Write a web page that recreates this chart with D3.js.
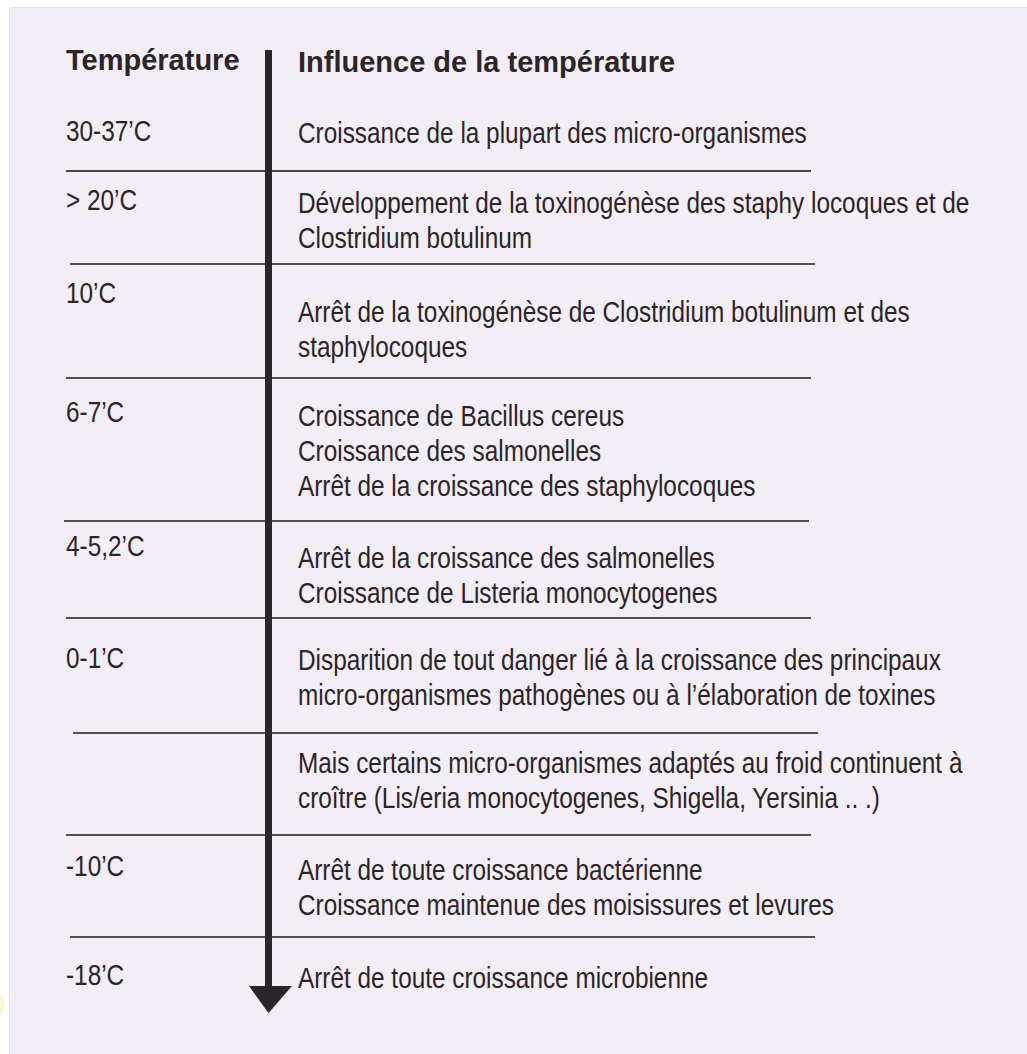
<!DOCTYPE html>
<html>
<head>
<meta charset="utf-8">
<script src="https://cdn.jsdelivr.net/npm/d3@7"></script>
<style>
  body { margin: 0; background: #fff; }
  svg { display: block; }
</style>
</head>
<body>
<svg id="chart"></svg>
<script>
// Les données du tableau
const headers = ['Température', 'Influence de la température'];

const temperatures = ['30-37’C', '> 20’C', '10’C', '6-7’C', '4-5,2’C', '0-1’C', '', '-10’C', '-18’C'];

const influences = [
    ['Croissance de la plupart des micro-organismes'],
    ['Développement de la toxinogénèse des staphy locoques et de', 'Clostridium botulinum'],
    ['Arrêt de la toxinogénèse de Clostridium botulinum et des', 'staphylocoques'],
    ['Croissance de Bacillus cereus', 'Croissance des salmonelles', 'Arrêt de la croissance des staphylocoques'],
    ['Arrêt de la croissance des salmonelles', 'Croissance de Listeria monocytogenes'],
    ['Disparition de tout danger lié à la croissance des principaux', 'micro-organismes pathogènes ou à l’élaboration de toxines'],
    ['Mais certains micro-organismes adaptés au froid continuent à', 'croître (Lis/eria monocytogenes, Shigella, Yersinia .. .)'],
    ['Arrêt de toute croissance bactérienne', 'Croissance maintenue des moisissures et levures'],
    ['Arrêt de toute croissance microbienne']
];

// Mise en page (positions en pixels)
const width = 1027, height = 1054;
const rowTops = [90, 171, 264, 378, 521, 618, 733, 835, 937, 1040];
const labelOffset = [51, 39, 39, 44, 35, 50, 0, 41, 48];
const descOffset = [53, 42, 58, 48, 47, 52, 40, 45, 51];
const ruleX = [[66, 811], [70, 815], [66, 811], [64, 809], [66, 811], [73, 818], [66, 811], [70, 815]];
const lineHeight = 35;
const narrow = 0.84; // police étroite simulée
const ink = '#2b2428';

const svg = d3.select('#chart')
    .attr('width', width)
    .attr('height', height)
    .style('font-family', '"Liberation Sans", Arial, Helvetica, sans-serif');

// Fond du panneau
svg.append('rect')
    .attr('x', 9.5).attr('y', 7.5)
    .attr('width', width).attr('height', height)
    .attr('fill', '#f3edf5')
    .attr('stroke', '#e6e3e6');

// petit reflet jaune sur le bord gauche
svg.append('circle')
    .attr('cx', -12).attr('cy', 1005).attr('r', 17)
    .attr('fill', '#fdf2cf').attr('opacity', 0.8);

const y = d3.scaleOrdinal()
    .domain(d3.range(rowTops.length))
    .range(rowTops);

// En-têtes
svg.selectAll('text.header')
    .data(headers)
    .join('text')
    .attr('class', 'header')
    .attr('x', (d, i) => i === 0 ? 66 : 298)
    .attr('y', (d, i) => i === 0 ? 70 : 72)
    .attr('fill', ink)
    .style('font-size', '29px')
    .style('font-weight', 'bold')
    .text(d => d);

// Lignes de séparation
svg.selectAll('line.rule')
    .data(ruleX)
    .join('line')
    .attr('class', 'rule')
    .attr('x1', d => d[0])
    .attr('x2', d => d[1])
    .attr('y1', (d, i) => y(i + 1))
    .attr('y2', (d, i) => y(i + 1))
    .attr('stroke', (d, i) => i === 0 ? '#4a4449' : '#1f1a1d')
    .attr('stroke-width', (d, i) => i === 0 ? 2.2 : 1.5);

// Températures
svg.selectAll('text.temp')
    .data(temperatures)
    .join('text')
    .attr('class', 'temp')
    .attr('transform', (d, i) => `translate(66,${y(i) + labelOffset[i]}) scale(${narrow},1)`)
    .attr('fill', ink)
    .style('font-size', '29px')
    .text(d => d);

// Influences
const rows = svg.selectAll('g.row')
    .data(influences)
    .join('g')
    .attr('class', 'row')
    .attr('transform', (d, i) => `translate(298,${y(i) + descOffset[i]}) scale(${narrow},1)`);

rows.selectAll('text')
    .data(d => d)
    .join('text')
    .attr('y', (d, j) => j * lineHeight)
    .attr('fill', ink)
    .style('font-size', '29px')
    .text(d => d);

// Flèche verticale
svg.append('line')
    .attr('x1', 268.5).attr('x2', 268.5)
    .attr('y1', 50).attr('y2', 990)
    .attr('stroke', ink)
    .attr('stroke-width', 7);

svg.append('path')
    .attr('d', d3.line()([[249, 986], [292, 986], [268.5, 1013]]))
    .attr('fill', ink);
</script>
</body>
</html>
